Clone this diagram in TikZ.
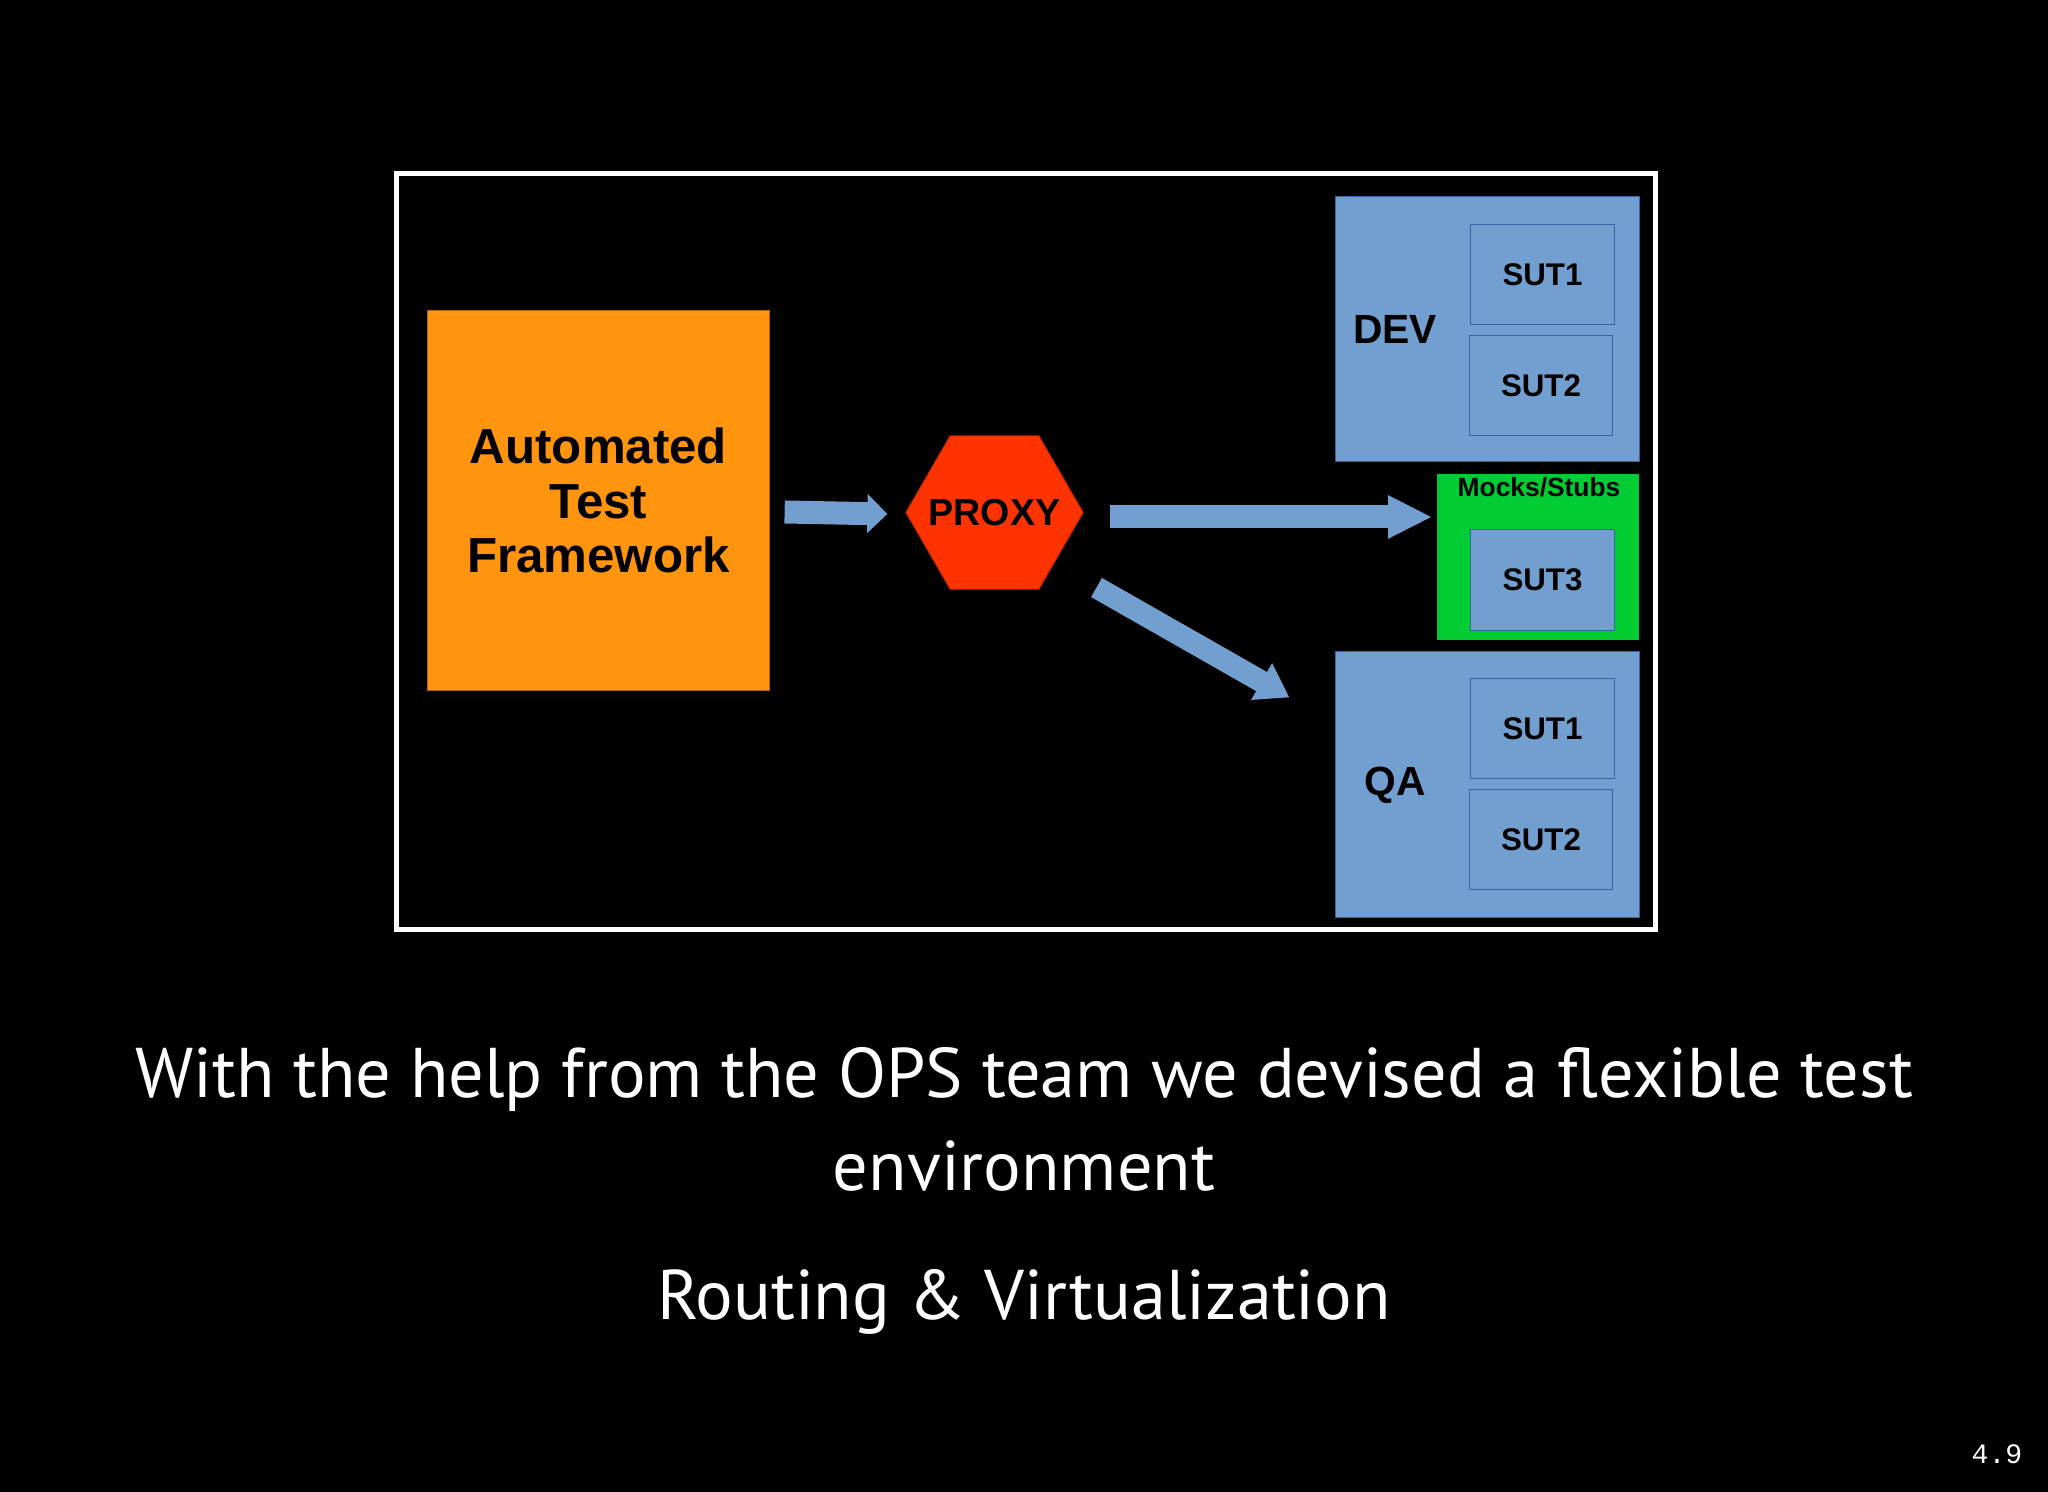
\documentclass[tikz,border=0pt]{standalone}
\usepackage{fontspec}
\setmainfont{Liberation Sans}
\newfontfamily\captionfont{PT Sans}
\newfontfamily\pagefont{Liberation Mono}
\usetikzlibrary{arrows.meta,shapes.geometric,calc}
\definecolor{slideblue}{HTML}{729FCF}
\definecolor{slideblueline}{HTML}{3465A4}
\definecolor{atforange}{HTML}{FF950E}
\definecolor{proxyred}{HTML}{FF3300}
\definecolor{mockgreen}{HTML}{00CC33}
\tikzset{
  >={Triangle},
  envbox/.style={
    rectangle,
    fill=slideblue,
    draw=slideblueline, line width=0.01cm,
    inner sep=0pt},
  sutbox/.style={
    rectangle,
    fill=slideblue,
    draw=slideblueline, line width=0.01cm,
    minimum width=1.43cm,
    minimum height=0.99cm,
    inner sep=0pt,
    font=\fontsize{8.9}{10}\selectfont\bfseries},
  envlabel/.style={font=\fontsize{11.6}{13}\selectfont\bfseries},
  blockarrow/.style={draw=slideblue, line width=0.23cm, -{Triangle[width=0.40cm,length=0.44cm]}},
  slidetext/.style={text=white, align=center, font=\captionfont\fontsize{20}{26.5}\selectfont},
}

\begin{document}
\begin{tikzpicture}[x=0.01cm, y=-0.01cm]
     \fill[black] (0,0) rectangle (2048,1492);
     \useasboundingbox (0,0) rectangle (2048,1492);
     \draw[white, line width=0.05cm] (396,174) rectangle (1655,930);
     % framework and proxy
     \node[rectangle, fill=atforange, draw=atforange!70!black, line width=0.01cm, minimum width=3.41cm, minimum height=3.79cm, align=center,
           font=\fontsize{14}{15.6}\selectfont\bfseries] (Framework) at (598.5,500.5) {Automated\\Test\\Framework};
     \node[regular polygon, regular polygon sides=6, fill=proxyred, draw=proxyred!80!black, line width=0.01cm, minimum size=1.77cm, inner sep=0pt,
           label={[font=\fontsize{10.7}{12}\selectfont\bfseries]center:PROXY}] (Proxy) at (994.5,512.5) {};
     % environments
     \node[envbox, minimum width=3.03cm, minimum height=2.64cm] (Dev) at (1487.5,329) {};
     \node[envlabel] (DevLabel) at (1395,329) {DEV};
     \node[sutbox] (DevSutA) at (1542.5,274.5) {SUT1};
     \node[sutbox] (DevSutB) at (1541,385.5) {SUT2};
     \node[rectangle, fill=mockgreen, minimum width=2.02cm, minimum height=1.66cm, inner sep=0pt] (Mocks) at (1538,557) {};
     \node[font=\fontsize{7.5}{9}\selectfont\bfseries] (MocksLabel) at (1539,487) {Mocks/Stubs};
     \node[sutbox, minimum height=1.00cm] (MockSut) at (1542.5,580) {SUT3};
     \node[envbox, minimum width=3.03cm, minimum height=2.65cm] (Qa) at (1487.5,784.5) {};
     \node[envlabel] (QaLabel) at (1395,785) {QA};
     \node[sutbox] (QaSutA) at (1542.5,728.5) {SUT1};
     \node[sutbox] (QaSutB) at (1541,839.5) {SUT2};
     % routing arrows
     \draw[blockarrow, -{Triangle[width=0.38cm,length=0.20cm]}] ($(Framework.east)+(15,11.5)$) -- ($(Proxy.west)+(-18,1.5)$);
     \draw[blockarrow] ($(Proxy.east)+(26,4.5)$) -- ($(Mocks.west)+(-4,-40)$);
     \draw[blockarrow, line width=0.22cm, -{Triangle[width=0.40cm,length=0.32cm]}] ($(Proxy.center)+(102,75)$) -- ($(Qa.north west)+(-46,46)$);
     % slide text
     \node[slidetext] (Caption) at (1024,1119.5) {With the help from the OPS team we devised a flexible test\\environment};
     \node[slidetext] (Subtitle) at (1024,1302) {Routing \& Virtualization};
     \node[text=white, font=\pagefont\fontsize{8}{9}\selectfont] (PageNo) at (1997,1454) {4.9};
\end{tikzpicture}
\end{document}
